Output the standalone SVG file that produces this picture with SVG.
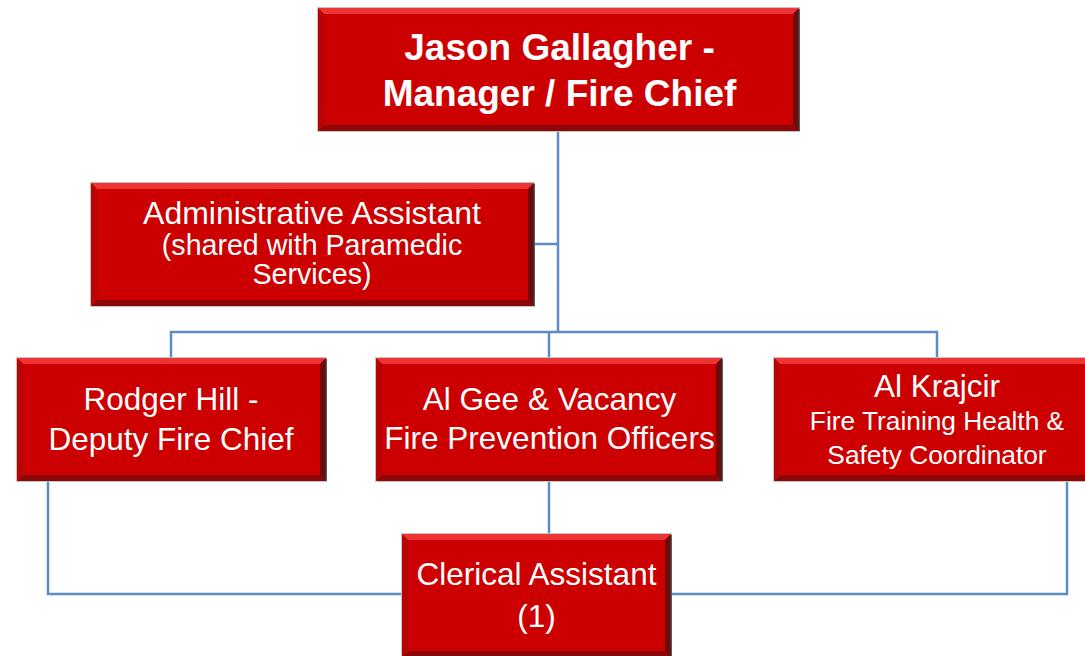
<svg xmlns="http://www.w3.org/2000/svg" width="1085" height="656" viewBox="0 0 1085 656">
<style>
.edge{fill:none;stroke:#5b8cc4;stroke-width:2.5}
.o{fill:#cc0000;stroke:#c4c4c4;stroke-width:2}
.bt{fill:#ee3434}
.bb{fill:#8c0808}
.bl{fill:#b80404}
.br{fill:#6e0a0a}
.rl{stroke:#3a3a3a;stroke-width:1.5}
text{font-family:"Liberation Sans",Arial,sans-serif;fill:#ffffff;text-anchor:middle}
.big{font-size:37px;font-weight:bold}
.n{font-size:31.5px}
.a{font-size:32px}
.s{font-size:28.6px}
.xs{font-size:26.3px}
</style>
<rect width="1085" height="656" fill="#ffffff"/>
<g id="connectors">
<path class="edge" d="M558 132 V332"/>
<path class="edge" d="M535 244 H558"/>
<path class="edge" d="M171 357 V332 H937 V357"/>
<path class="edge" d="M549 332 V357"/>
<path class="edge" d="M549 482 V533"/>
<path class="edge" d="M48 482 V594 H401"/>
<path class="edge" d="M1067 482 V594 H672"/>
</g>
<g id="chief">
<rect class="o" x="318" y="8" width="481" height="123"/>
<polygon class="bt" points="318,8 799,8 793,14 324,14"/>
<polygon class="bb" points="318,131 799,131 793,125 324,125"/>
<polygon class="bl" points="318,8 324,14 324,125 318,131"/>
<polygon class="br" points="799,8 793,14 793,125 799,131"/>
<line class="rl" x1="799" y1="9" x2="799" y2="131"/>
<text class="big" x="559.5" y="60">Jason Gallagher -</text>
<text class="big" x="559.5" y="106">Manager / Fire Chief</text>
</g>
<g id="admin">
<rect class="o" x="91" y="183" width="443" height="123"/>
<polygon class="bt" points="91,183 534,183 528,189 97,189"/>
<polygon class="bb" points="91,306 534,306 528,300 97,300"/>
<polygon class="bl" points="91,183 97,189 97,300 91,306"/>
<polygon class="br" points="534,183 528,189 528,300 534,306"/>
<line class="rl" x1="534" y1="184" x2="534" y2="306"/>
<text class="a" x="312" y="224">Administrative Assistant</text>
<text class="s" x="312" y="255">(shared with Paramedic</text>
<text class="s" x="312" y="284">Services)</text>
</g>
<g id="deputy">
<rect class="o" x="17" y="358" width="309" height="123"/>
<polygon class="bt" points="17,358 326,358 320,364 23,364"/>
<polygon class="bb" points="17,481 326,481 320,475 23,475"/>
<polygon class="bl" points="17,358 23,364 23,475 17,481"/>
<polygon class="br" points="326,358 320,364 320,475 326,481"/>
<line class="rl" x1="326" y1="359" x2="326" y2="481"/>
<text class="n" x="171" y="410">Rodger Hill -</text>
<text class="n" x="171" y="450">Deputy Fire Chief</text>
</g>
<g id="prevention">
<rect class="o" x="376" y="358" width="346" height="123"/>
<polygon class="bt" points="376,358 722,358 716,364 382,364"/>
<polygon class="bb" points="376,481 722,481 716,475 382,475"/>
<polygon class="bl" points="376,358 382,364 382,475 376,481"/>
<polygon class="br" points="722,358 716,364 716,475 722,481"/>
<line class="rl" x1="722" y1="359" x2="722" y2="481"/>
<text class="n" x="549.5" y="410">Al Gee &amp; Vacancy</text>
<text class="n" x="549.5" y="449">Fire Prevention Officers</text>
</g>
<g id="training">
<rect class="o" x="774" y="358" width="326" height="123"/>
<polygon class="bt" points="774,358 1100,358 1094,364 780,364"/>
<polygon class="bb" points="774,481 1100,481 1094,475 780,475"/>
<polygon class="bl" points="774,358 780,364 780,475 774,481"/>
<polygon class="br" points="1100,358 1094,364 1094,475 1100,481"/>
<text class="n" x="937" y="397">Al Krajcir</text>
<text class="xs" x="937" y="430">Fire Training Health &amp;</text>
<text class="xs" x="937" y="464">Safety Coordinator</text>
</g>
<g id="clerical">
<rect class="o" x="402" y="534" width="269" height="123"/>
<polygon class="bt" points="402,534 671,534 665,540 408,540"/>
<polygon class="bb" points="402,657 671,657 665,651 408,651"/>
<polygon class="bl" points="402,534 408,540 408,651 402,657"/>
<polygon class="br" points="671,534 665,540 665,651 671,657"/>
<line class="rl" x1="671" y1="535" x2="671" y2="657"/>
<text class="n" x="536.5" y="585">Clerical Assistant</text>
<text class="n" x="536.5" y="627">(1)</text>
</g>
</svg>
